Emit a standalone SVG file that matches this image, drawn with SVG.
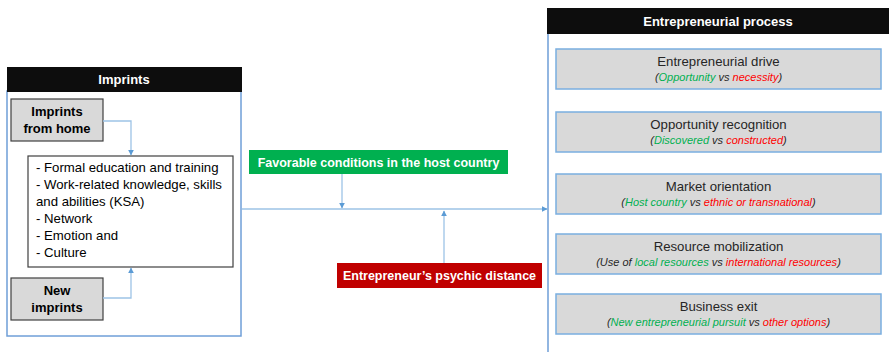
<svg xmlns="http://www.w3.org/2000/svg" width="889" height="352" viewBox="0 0 889 352">
<defs>
<style>
text{font-family:"Liberation Sans",Arial,sans-serif;}
.hdr{fill:#0d0d0d;}
.hdrt{fill:#fff;font-weight:bold;font-size:13px;text-anchor:middle;}
.panel{fill:#fff;stroke:#6f9fd8;stroke-width:1.5;}
.gbox{fill:#d9d9d9;stroke:#404040;stroke-width:1.2;}
.gboxt{fill:#000;font-weight:bold;font-size:13px;text-anchor:middle;}
.list{fill:#fff;stroke:#404040;stroke-width:1.2;}
.lt{font-size:13.2px;fill:#000;}
.pbox{fill:#d9d9d9;stroke:#7aaee0;stroke-width:1.5;}
.pt{font-size:13.2px;fill:#262626;text-anchor:middle;}
.ps{font-size:11px;font-style:italic;fill:#262626;text-anchor:middle;}
.g{fill:#00b050;}
.r{fill:#ff0000;}
.con{fill:none;stroke:#9dc3e6;stroke-width:1.3;}
.lbl{fill:#fff;font-weight:bold;font-size:12.5px;text-anchor:middle;}
</style>
<marker id="arr" viewBox="0 0 10 10" refX="9" refY="5" markerWidth="6" markerHeight="6" orient="auto" markerUnits="userSpaceOnUse">
<path d="M0,0 L10,5 L0,10 z" fill="#5b9bd5"/>
</marker>
</defs>

<g id="imprints-panel">
<rect class="panel" x="7" y="91" width="234" height="245"/>
<rect class="hdr" x="7" y="67" width="235" height="25"/>
<text class="hdrt" x="124" y="84">Imprints</text>
</g>

<g id="imprints-home">
<rect class="gbox" x="11" y="99" width="92" height="42"/>
<text class="gboxt" x="57" y="116">Imprints</text>
<text class="gboxt" x="57" y="133">from home</text>
</g>

<g id="imprints-list">
<rect class="list" x="28" y="156" width="205" height="111"/>
<text class="lt" x="36" y="172">- Formal education and training</text>
<text class="lt" x="36" y="189">- Work-related knowledge, skills</text>
<text class="lt" x="36" y="206">and abilities (KSA)</text>
<text class="lt" x="36" y="223">- Network</text>
<text class="lt" x="36" y="240">- Emotion and</text>
<text class="lt" x="36" y="257">- Culture</text>
</g>

<g id="new-imprints">
<rect class="gbox" x="11" y="278" width="92" height="42"/>
<text class="gboxt" x="57" y="295">New</text>
<text class="gboxt" x="57" y="312">imprints</text>
</g>

<g id="favorable">
<rect x="249" y="150" width="259" height="24" fill="#00b050"/>
<text class="lbl" x="378.5" y="167">Favorable conditions in the host country</text>
</g>

<g id="psychic">
<rect x="337" y="263" width="205" height="25" fill="#c00000"/>
<text class="lbl" x="439.5" y="280">Entrepreneur’s psychic distance</text>
</g>

<g id="process-panel">
<rect class="panel" x="548" y="33" width="350" height="330"/>
<rect class="hdr" x="547" y="8" width="342" height="26"/>
<text class="hdrt" x="718" y="26">Entrepreneurial process</text>
</g>

<g id="drive">
<rect class="pbox" x="556" y="49" width="325" height="40"/>
<text class="pt" x="718.5" y="66">Entrepreneurial drive</text>
<text class="ps" x="718.5" y="81">(<tspan class="g">Opportunity</tspan> vs <tspan class="r">necessity</tspan>)</text>
</g>

<g id="recognition">
<rect class="pbox" x="556" y="112" width="325" height="40"/>
<text class="pt" x="718.5" y="129">Opportunity recognition</text>
<text class="ps" x="718.5" y="144">(<tspan class="g">Discovered</tspan> vs <tspan class="r">constructed</tspan>)</text>
</g>

<g id="market">
<rect class="pbox" x="556" y="174" width="325" height="40"/>
<text class="pt" x="718.5" y="191">Market orientation</text>
<text class="ps" x="718.5" y="206">(<tspan class="g">Host country</tspan> vs <tspan class="r">ethnic or transnational</tspan>)</text>
</g>

<g id="resource">
<rect class="pbox" x="556" y="234" width="325" height="40"/>
<text class="pt" x="718.5" y="251">Resource mobilization</text>
<text class="ps" x="718.5" y="266">(Use of <tspan class="g">local resources</tspan> vs <tspan class="r">international resources</tspan>)</text>
</g>

<g id="exit">
<rect class="pbox" x="556" y="294" width="325" height="40"/>
<text class="pt" x="718.5" y="311">Business exit</text>
<text class="ps" x="718.5" y="326">(<tspan class="g">New entrepreneurial pursuit</tspan> vs <tspan class="r">other options</tspan>)</text>
</g>

<g id="connectors">
<path class="con" d="M103,121 H131 V155" marker-end="url(#arr)"/>
<path class="con" d="M103,298 H131 V268" marker-end="url(#arr)"/>
<path class="con" d="M242,209 H547" marker-end="url(#arr)"/>
<path class="con" d="M342,174 V208" marker-end="url(#arr)"/>
<path class="con" d="M444,263 V211" marker-end="url(#arr)"/>
</g>
</svg>
